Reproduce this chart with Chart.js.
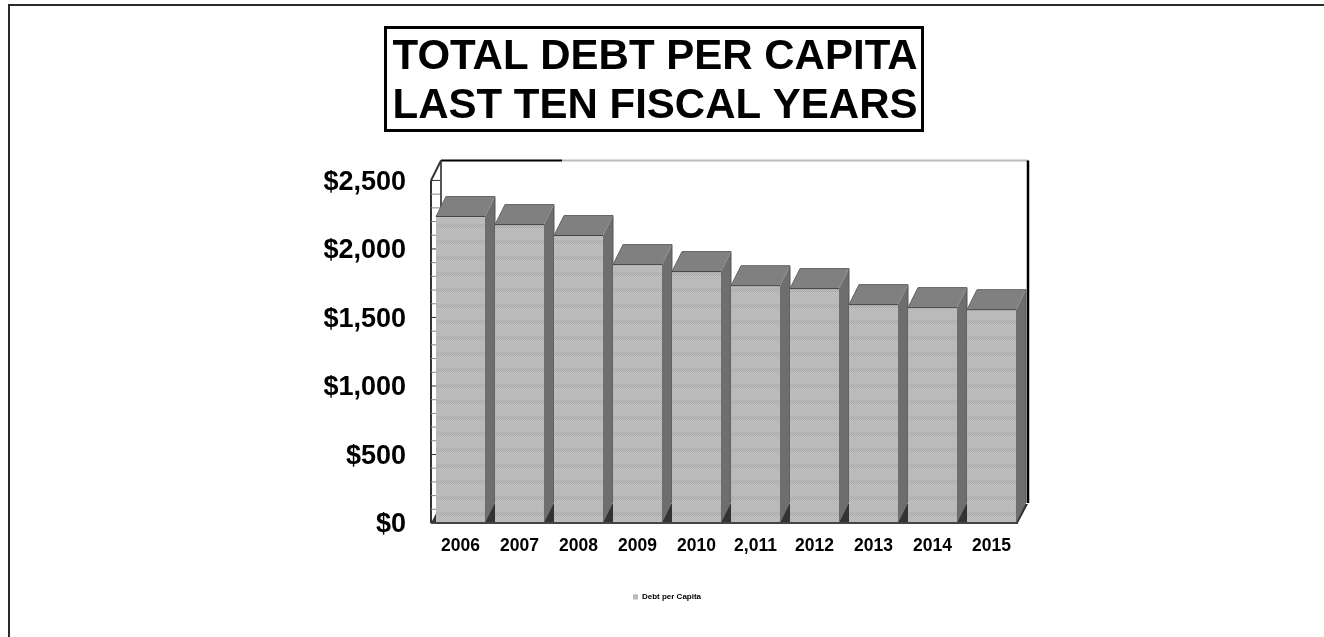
<!DOCTYPE html>
<html>
<head>
<meta charset="utf-8">
<title>Total Debt Per Capita</title>
<script src="https://cdn.jsdelivr.net/npm/chart.js@4"></script>
<style>
  html, body { margin: 0; padding: 0; background: #fff; overflow: hidden; }
  #wrap { position: absolute; left: 0; top: 0; width: 1324px; height: 637px; overflow: hidden; }
  #frame { position: absolute; left: 8px; top: 4px; width: 1330px; height: 650px; border-top: 2px solid #2a2a2a; border-left: 2px solid #2a2a2a; }
  canvas { position: absolute; left: 0; top: 0; }
</style>
</head>
<body>
<div id="wrap">
  <div id="frame"></div>
  <canvas id="debt-canvas" width="1324" height="637"></canvas>
</div>
<script>
var years = ['2006', '2007', '2008', '2009', '2010', '2,011', '2012', '2013', '2014', '2015'];
var debtPerCapita = [2237, 2178, 2098, 1886, 1835, 1732, 1711, 1594, 1572, 1557];
var titleLines = ['TOTAL DEBT PER CAPITA', 'LAST TEN FISCAL YEARS'];
var seriesName = 'Debt per Capita';

var FONT = '"Liberation Sans", Arial, sans-serif';
var DEPTH_X = 10, DEPTH_Y = 20;

// dithered grey with a few darker bands, used for the bar fronts
function barPattern() {
    var c = document.createElement('canvas');
    c.width = 4; c.height = 48;
    var g = c.getContext('2d');
    g.fillStyle = '#bfbfbf';
    g.fillRect(0, 0, 4, 48);
    for (var y = 0; y < 48; y++) {
        var band = y % 16 < 4;
        for (var x = 0; x < 4; x++) {
            if ((x + y) % 2 === 0) {
                g.fillStyle = band ? '#a8a8a8' : '#b6b6b6';
                g.fillRect(x, y, 1, 1);
            }
        }
    }
    return g.createPattern(c, 'repeat');
}

function poly(ctx, pts, fill) {
    ctx.beginPath();
    ctx.moveTo(pts[0][0], pts[0][1]);
    for (var i = 1; i < pts.length; i++) ctx.lineTo(pts[i][0], pts[i][1]);
    ctx.closePath();
    ctx.fillStyle = fill;
    ctx.fill();
}

function line(ctx, x1, y1, x2, y2, color, width) {
    ctx.beginPath();
    ctx.moveTo(x1, y1);
    ctx.lineTo(x2, y2);
    ctx.strokeStyle = color;
    ctx.lineWidth = width;
    ctx.stroke();
}

// walls, floor and the top/side faces of the bars
var box3d = {
    id: 'box3d',
    afterLayout: function (chart) {
        // the legend sits a little right of the title's centre
        chart.legend.left += 12;
        chart.legend.right += 12;
    },
    beforeDatasetsDraw: function (chart) {
        var ctx = chart.ctx, a = chart.chartArea, y = chart.scales.y;
        var bx = a.left + DEPTH_X, by = a.top - DEPTH_Y, fy = a.bottom - DEPTH_Y;
        ctx.save();
        // floor
        poly(ctx, [[a.left, a.bottom], [a.right - 3, a.bottom], [a.right + DEPTH_X - 3, fy + 1], [bx, fy + 1]], '#333333');
        // back wall outline
        line(ctx, bx, by, bx + 121, by, '#000', 2);
        line(ctx, bx + 121, by, a.right + 7, by, '#bbbbbb', 2);
        line(ctx, a.right + 7, by, a.right + 7, fy, '#000', 2.5);
        // side wall with a tick every $100
        line(ctx, a.left, a.top, a.left, a.bottom, '#333', 2);
        line(ctx, bx, by, bx, fy, '#555', 2);
        line(ctx, a.left, a.top, bx, by, '#333', 2);
        for (var v = 0; v <= 2500; v += 100) {
            var p = y.getPixelForValue(v);
            line(ctx, a.left, p, a.left + 9, p, v % 500 ? '#888' : '#333', 1);
        }
        chart.getDatasetMeta(0).data.forEach(function (bar) {
            var l = bar.x - bar.width / 2, r = bar.x + bar.width / 2;
            poly(ctx, [[r, bar.y], [r + DEPTH_X, bar.y - DEPTH_Y], [r + DEPTH_X, bar.base - DEPTH_Y], [r, bar.base]], '#6e6e6e');
            poly(ctx, [[l, bar.y], [l + DEPTH_X, bar.y - DEPTH_Y], [r + DEPTH_X, bar.y - DEPTH_Y], [r, bar.y]], '#808080');
            line(ctx, l, bar.y, l + DEPTH_X, bar.y - DEPTH_Y, '#666', 1);
            line(ctx, r + DEPTH_X, bar.y - DEPTH_Y, l + DEPTH_X, bar.y - DEPTH_Y, '#666', 1);
            line(ctx, r + DEPTH_X, bar.y - DEPTH_Y, r + DEPTH_X, bar.base - DEPTH_Y, '#555', 1);
        });
        ctx.restore();
    },
    afterDatasetsDraw: function (chart) {
        var ctx = chart.ctx, a = chart.chartArea;
        ctx.save();
        chart.getDatasetMeta(0).data.forEach(function (bar) {
            line(ctx, bar.x - bar.width / 2, bar.y, bar.x + bar.width / 2, bar.y, '#444', 1);
        });
        line(ctx, a.left, a.bottom, a.right - 3, a.bottom, '#444', 2);
        ctx.restore();
    }
};

// border around the two title lines
var titleBox = {
    id: 'titleBox',
    afterDraw: function (chart) {
        var ctx = chart.ctx;
        ctx.save();
        ctx.strokeStyle = '#000';
        ctx.lineWidth = 3;
        ctx.strokeRect(385.5, 27.5, 537, 103);
        ctx.restore();
    }
};

new Chart('debt-canvas', {
    type: 'bar',
    plugins: [box3d, titleBox],
    data: {
        labels: years,
        datasets: [{
            label: seriesName,
            data: debtPerCapita,
            backgroundColor: barPattern(),
            categoryPercentage: 1,
            barPercentage: 0.83
        }]
    },
    options: {
        responsive: false,
        animation: false,
        layout: { padding: { right: 14, bottom: 26 } },
        plugins: {
            tooltip: { enabled: false },
            title: {
                display: true,
                text: titleLines,
                color: '#000',
                font: { family: FONT, size: 42, weight: 'bold', lineHeight: 1.16 },
                padding: { top: 33, bottom: 50 }
            },
            legend: {
                position: 'bottom',
                labels: {
                    color: '#000',
                    boxWidth: 5,
                    boxHeight: 5,
                    padding: 4,
                    font: { family: FONT, size: 8, weight: 'bold' }
                }
            }
        },
        scales: {
            x: {
                border: { display: false },
                grid: { display: false },
                afterFit: function (s) { s.height = 66; },
                ticks: {
                    color: '#000',
                    maxRotation: 0,
                    padding: 5,
                    font: { family: FONT, size: 17.5, weight: 'bold' }
                }
            },
            y: {
                min: 0,
                max: 2500,
                border: { display: false },
                grid: { display: false },
                afterFit: function (s) { s.width = 431; },
                ticks: {
                    stepSize: 100,
                    autoSkip: false,
                    color: '#000',
                    padding: 17,
                    labelOffset: 2,
                    font: { family: FONT, size: 27, weight: 'bold' },
                    callback: function (v) {
                        return v % 500 === 0 ? '$' + v.toLocaleString('en-US') : '';
                    }
                }
            },
            // empty axis that reserves the blank space right of the plot
            gutter: {
                position: 'right',
                display: true,
                border: { display: false },
                grid: { display: false },
                ticks: { display: false },
                afterFit: function (s) { s.width = 289; }
            }
        }
    }
});
</script>
</body>
</html>
